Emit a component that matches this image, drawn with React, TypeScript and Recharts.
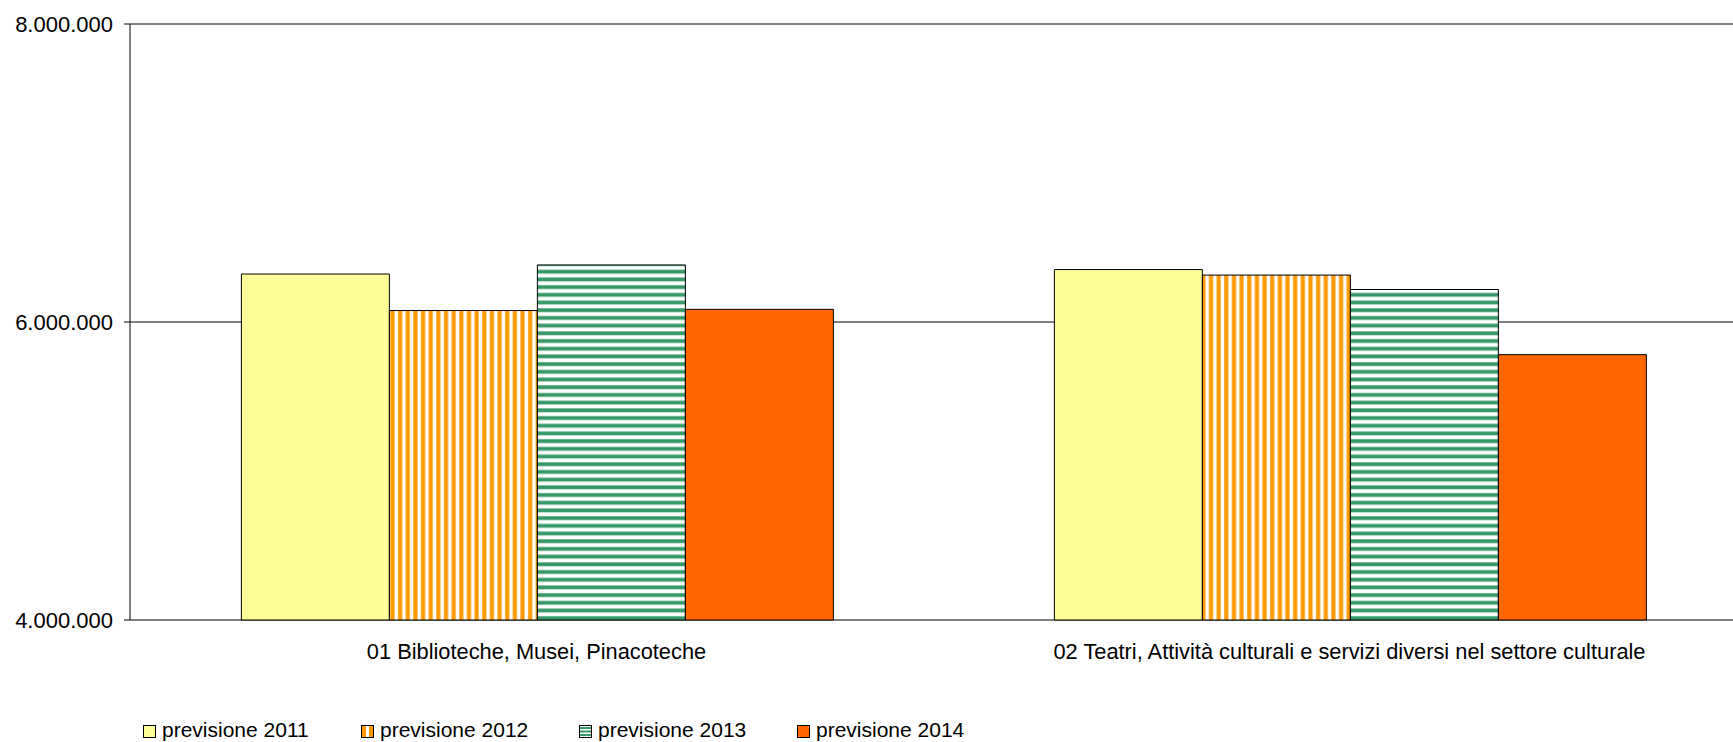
import React from 'react';
import { BarChart, Bar, XAxis, YAxis, CartesianGrid, Legend } from 'recharts';

const categories = [
  '01 Biblioteche, Musei, Pinacoteche',
  '02 Teatri, Attività culturali e servizi diversi nel settore culturale',
];
const seriesNames = ['previsione 2011', 'previsione 2012', 'previsione 2013', 'previsione 2014'];
const prev2011 = [6322000, 6352000];
const prev2012 = [6077000, 6315000];
const prev2013 = [6383000, 6218000];
const prev2014 = [6085000, 5781000];
const yTicks = [4000000, 6000000, 8000000];
const boundaryTicks = [0, 1, 2];

const data = categories.map((c, i) => ({
  name: c,
  p2011: prev2011[i],
  p2012: prev2012[i],
  p2013: prev2013[i],
  p2014: prev2014[i],
}));

const FONT = '"Liberation Sans", Arial, sans-serif';
const fmt = (n: number) => String(n).replace(/\B(?=(\d{3})+(?!\d))/g, '.');

const icons = [
  <svg width={13} height={13} key="a">
    <rect x={0.5} y={0.5} width={12} height={12} fill="#FFFF99" stroke="#000" />
  </svg>,
  <svg width={13} height={13} key="b">
    <rect x={0.5} y={0.5} width={12} height={12} fill="#FF9900" stroke="#000" />
    <rect x={5} y={1} width={3} height={11} fill="#fff" />
  </svg>,
  <svg width={13} height={13} key="c">
    <rect x={0.5} y={0.5} width={12} height={12} fill="#fff" stroke="#000" />
    <rect x={1} y={2} width={11} height={2} fill="#339966" />
    <rect x={1} y={5.5} width={11} height={2} fill="#339966" />
    <rect x={1} y={9} width={11} height={2} fill="#339966" />
  </svg>,
  <svg width={13} height={13} key="d">
    <rect x={0.5} y={0.5} width={12} height={12} fill="#FF6600" stroke="#000" />
  </svg>,
];

const LegendContent = () => (
  <div style={{ display: 'flex', paddingLeft: 143, height: 26, alignItems: 'flex-start' }}>
    {seriesNames.map((s, i) => (
      <div key={s} style={{ width: 218, display: 'flex', alignItems: 'flex-start' }}>
        <div style={{ marginTop: 7, height: 13 }}>{icons[i]}</div>
        <span style={{ marginLeft: 6, fontSize: 21, fontFamily: FONT, color: '#000', lineHeight: '26px' }}>{s}</span>
      </div>
    ))}
  </div>
);

export default function App() {
  return (
    <div style={{ position: 'fixed', left: 0, top: 0, width: 1733, height: 742, overflow: 'hidden', background: '#fff' }}>
      <BarChart
        width={1760}
        height={742}
        data={data}
        margin={{ top: 24, right: 4, bottom: 62, left: 0 }}
        barGap={0}
        barCategoryGap="13.7%"
      >
        <defs>
          <pattern id="pat2012" patternUnits="userSpaceOnUse" width={7.65} height={10}>
            <rect x={0} y={0} width={7.65} height={10} fill="#fff" />
            <rect x={0} y={0} width={4.6} height={10} fill="#FFC25C" />
            <rect x={0.6} y={0} width={3.4} height={10} fill="#FF9900" />
          </pattern>
          <pattern id="pat2013" patternUnits="userSpaceOnUse" width={10} height={7.7}>
            <rect x={0} y={0} width={10} height={7.7} fill="#fff" />
            <rect x={0} y={0} width={10} height={4.4} fill="#9CCBB3" />
            <rect x={0} y={0.6} width={10} height={3.2} fill="#339966" />
          </pattern>
        </defs>
        <CartesianGrid xAxisId="cat" vertical={false} stroke="#000" strokeWidth={1} />
        <XAxis
          xAxisId="grid"
          type="number"
          domain={[0, 2]}
          ticks={boundaryTicks}
          allowDataOverflow
          height={0}
          tick={false}
          tickSize={7}
          axisLine={{ stroke: '#000' }}
          tickLine={{ stroke: '#000' }}
        />
        <XAxis
          xAxisId="cat"
          dataKey="name"
          height={60}
          axisLine={false}
          tickLine={false}
          tickSize={0}
          tickMargin={24}
          interval={0}
          tick={{ fontSize: 21.8, fontFamily: FONT, fill: '#000' }}
        />
        <YAxis
          domain={[4000000, 8000000]}
          ticks={yTicks}
          width={130}
          tickFormatter={fmt}
          tickSize={6}
          tickMargin={11}
          axisLine={{ stroke: '#000' }}
          tickLine={{ stroke: '#000' }}
          tick={{ fontSize: 22, fontFamily: FONT, fill: '#000' }}
        />
        <Legend
          layout="horizontal"
          verticalAlign="middle"
          align="center"
          content={LegendContent}
          wrapperStyle={{ position: 'absolute', top: 716.5, left: 0, width: 1733, height: 26 }}
        />
        <Bar xAxisId="cat" dataKey="p2011" name={seriesNames[0]} fill="#FFFF99" stroke="#000" strokeWidth={1} isAnimationActive={false} />
        <Bar xAxisId="cat" dataKey="p2012" name={seriesNames[1]} fill="url(#pat2012)" stroke="#000" strokeWidth={1} isAnimationActive={false} />
        <Bar xAxisId="cat" dataKey="p2013" name={seriesNames[2]} fill="url(#pat2013)" stroke="#000" strokeWidth={1} isAnimationActive={false} />
        <Bar xAxisId="cat" dataKey="p2014" name={seriesNames[3]} fill="#FF6600" stroke="#000" strokeWidth={1} isAnimationActive={false} />
      </BarChart>
    </div>
  );
}
